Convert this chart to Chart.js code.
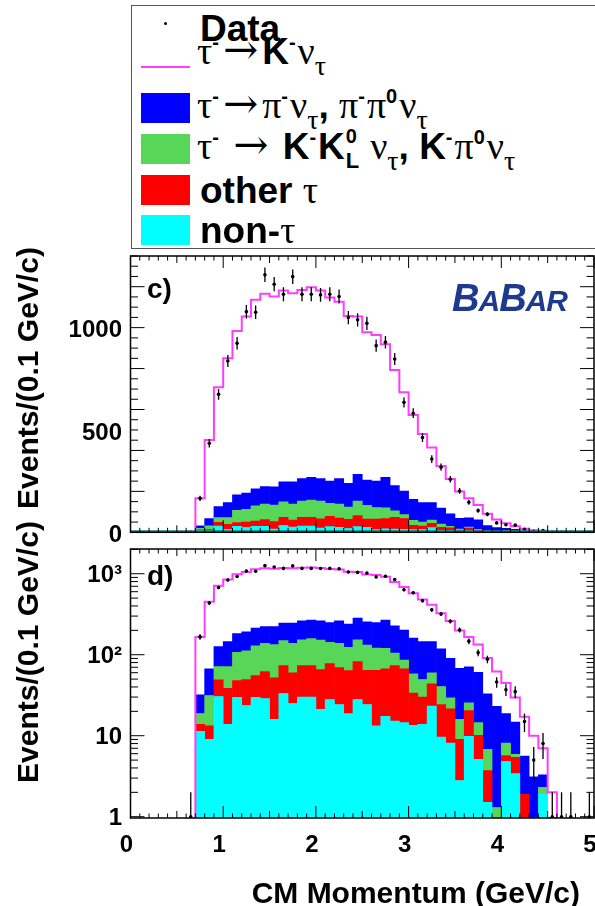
<!DOCTYPE html>
<html>
<head>
<meta charset="utf-8">
<title>CM momentum</title>
<script src="https://cdn.jsdelivr.net/npm/chart.js@4.4.1/dist/chart.umd.min.js"></script>
<style>
  html, body { margin: 0; padding: 0; background: #fff; overflow: hidden; }
  #page { position: relative; width: 595px; height: 906px; overflow: hidden;
          font-family: "Liberation Sans", Arial, sans-serif; font-weight: bold; color: #000; }
  #page canvas { position: absolute; left: 0; }
  .txt { position: absolute; line-height: 0; white-space: nowrap; }
  .gr { font-family: "Liberation Serif", "Times New Roman", serif; font-weight: normal; font-size: 38px; }
  .sp { font-size: 20px; position: relative; top: -15px; margin-right: 2px; }
  .sb { font-size: 28px; position: relative; top: 11px; }
  .arr { font-family: "DejaVu Serif", serif; font-weight: normal; font-size: 42px; margin: 0 4px 0 2px; }
  .row { font-size: 37px; left: 197px; }
  #legend { position: absolute; left: 131px; top: 5px; width: 520px; height: 244px;
            border: 1.5px solid #555; box-sizing: border-box; background: #fff; }
  .swatch { position: absolute; left: 141px; width: 49px; height: 30px; }
  .ytitle { position: absolute; font-size: 30px; line-height: 30px; white-space: nowrap;
            transform: translate(-50%, -50%) rotate(-90deg); }
</style>
</head>
<body>
<div id="page">
  <canvas id="panelC" width="598" height="295" style="top:250px"></canvas>
  <canvas id="panelD" width="598" height="361" style="top:545px"></canvas>

  <div id="legend"></div>
  <div style="position:absolute;left:163.5px;top:21.5px;width:3px;height:3px;border-radius:50%;background:#000"></div>
  <div style="position:absolute;left:141px;top:66px;width:49px;height:2px;background:#ff3cff"></div>
  <div class="swatch" style="top:93px;background:#0000ff"></div>
  <div class="swatch" style="top:134px;background:#57d657"></div>
  <div class="swatch" style="top:175px;background:#ff0000"></div>
  <div class="swatch" style="top:215px;background:#00ffff"></div>

  <div class="txt row" style="top:29.2px;left:200px">Data</div>
  <div class="txt row" style="top:50.2px"><span class="gr">τ</span><span class="sp">-</span><span class="arr">→</span>K<span class="sp">-</span><span class="gr">ν</span><span class="sb gr">τ</span></div>
  <div class="txt row" style="top:104.2px"><span class="gr">τ</span><span class="sp">-</span><span class="arr">→</span><span class="gr">π</span><span class="sp">-</span><span class="gr">ν</span><span class="sb gr">τ</span>, <span class="gr">π</span><span class="sp">-</span><span class="gr">π</span><span class="sp">0</span><span class="gr">ν</span><span class="sb gr">τ</span></div>
  <div class="txt row" style="top:145.2px"><span class="gr">τ</span><span class="sp">-</span> <span class="arr">→</span> K<span class="sp">-</span>K<span style="display:inline-block;position:relative;width:15px;height:0"><span style="position:absolute;left:1px;top:-23px;font-size:20px">0</span><span style="position:absolute;left:1px;top:2px;font-size:22px">L</span></span> <span class="gr">ν</span><span class="sb gr">τ</span>, K<span class="sp">-</span><span class="gr">π</span><span class="sp">0</span><span class="gr">ν</span><span class="sb gr">τ</span></div>
  <div class="txt row" style="top:190.2px;left:200px">other <span class="gr">τ</span></div>
  <div class="txt row" style="top:230.2px;left:200px">non-<span class="gr">τ</span></div>

  <div class="txt" style="left:452px;top:298px;font-size:38px;font-style:italic;color:#1e3a8e;letter-spacing:-1px">B<span style="font-size:30px">A</span>B<span style="font-size:30px">A</span><span style="font-size:30px">R</span></div>
  <div class="txt" style="left:147px;top:289px;font-size:28px">c)</div>
  <div class="txt" style="left:147px;top:576px;font-size:28px">d)</div>

  <div class="ytitle" style="left:28px;top:378px">Events/(0.1 GeV/c)</div>
  <div class="ytitle" style="left:28px;top:652px">Events/(0.1 GeV/c)</div>
  <div class="txt" style="right:15px;top:893px;font-size:30px">CM Momentum (GeV/c)</div>
</div>

<script>
Chart.defaults.font.family = "'Liberation Sans', Arial, sans-serif";
Chart.defaults.font.weight = 'bold';
Chart.defaults.font.size = 24;
Chart.defaults.color = '#000';

// lower edge of each 0.1 GeV/c bin
const binLow = [0.7, 0.8, 0.9, 1.0, 1.1, 1.2, 1.3, 1.4, 1.5, 1.6,
                1.7, 1.8, 1.9, 2.0, 2.1, 2.2, 2.3, 2.4, 2.5, 2.6,
                2.7, 2.8, 2.9, 3.0, 3.1, 3.2, 3.3, 3.4, 3.5, 3.6,
                3.7, 3.8, 3.9, 4.0, 4.1, 4.2, 4.3, 4.4, 4.5];

// stacked MC components, events per bin (bottom to top)
const nonTau = [11.3, 9.0, 30.5, 13.8, 29.7, 23.6, 29.7, 28.8, 15.9, 33.2,
                25.0, 29.9, 29.9, 21.1, 28.0, 24.3, 18.7, 28.0, 24.3, 13.2,
                17.3, 15.2, 14.5, 13.4, 13.8, 23.2, 9.6, 8.1, 2.8, 9.8,
                5.1, 1.5, 0, 4.8, 3.4, 0, 0, 1.9, 0];
const otherTau = [2.5, 4.2, 18.5, 24.8, 18.3, 25.8, 25.6, 33.2, 35.9, 40.3,
                  34.7, 43.6, 43.6, 44.5, 49.8, 45.1, 45.0, 54.2, 40.0, 51.1,
                  49.5, 58.3, 52.3, 20.1, 16.1, 20.5, 14.7, 13.4, 6.2, 10.7,
                  5.0, 2.2, 0, 0.9, 2.0, 1.9, 0, 0, 0];
const kKpi0 = [5.0, 18.2, 22.4, 32.8, 59.0, 62.6, 73.7, 76.0, 81.2, 75.5,
               78.3, 79.5, 84.5, 86.4, 64.2, 68.6, 59.3, 70.8, 67.7, 56.7,
               53.2, 31.5, 19.2, 24.5, 19.5, 16.0, 16.2, 7.9, 6.9, 5.0,
               4.4, 3.1, 1.3, 2.4, 0.5, 0, 0, 0.4, 0];
const piPi0 = [13.2, 35.5, 54.6, 73.6, 76, 80, 84, 85, 89, 97,
               108, 110, 110, 111, 108, 125, 116, 130, 123, 129,
               148, 123, 116, 103, 95.6, 85.3, 77.5, 60.6, 52.1, 45.5,
               46.3, 26.2, 21.7, 10.7, 8.8, 3.7, 3.1, 1.0, 0];
// tau -> K nu signal, drawn as an outline on top of the stack
const kNu = [134, 384, 583, 705, 801, 862, 923, 942, 930, 935,
             922, 921, 929, 918, 897, 864, 818, 771, 723, 714,
             651, 565, 482, 412, 335, 269, 206, 171, 131, 95,
             73, 58, 39, 26, 15, 11.5, 6.9, 3.7, 2];

// data: bin centres and event counts
const dataX = [0.65, 0.75, 0.85, 0.95, 1.05, 1.15, 1.25, 1.35, 1.45, 1.55, 1.65,
               1.75, 1.85, 1.95, 2.05, 2.15, 2.25, 2.35, 2.45, 2.55, 2.65,
               2.75, 2.85, 2.95, 3.05, 3.15, 3.25, 3.35, 3.45, 3.55, 3.65,
               3.75, 3.85, 3.95, 4.05, 4.15, 4.25, 4.35, 4.45, 4.55,
               4.65, 4.75, 4.95];
const dataN = [1, 166, 435, 674, 837, 924, 1078, 1075, 1258, 1212, 1163,
               1249, 1163, 1163, 1160, 1163, 1152, 1049, 1038, 1021, 912,
               929, 847, 635, 582, 463, 358, 318, 259, 202, 147,
               106, 88, 46, 37, 35, 15, 5, 8, 1,
               1, 1, 1];

// labelled ticks
const xLabels = [0, 1, 2, 3, 4, 5];
const yLabelsLin = [0, 500, 1000];
const yLabelsLog = [1, 10, 100, 1000];
const logText = { 1: '1', 10: '10', 100: '10²', 1000: '10³' };

const layers = [
  { label: 'non-τ', values: nonTau, color: '#00ffff' },
  { label: 'other τ', values: otherTau, color: '#ff0000' },
  { label: 'K⁻K⁰L ν, K⁻π⁰ν', values: kKpi0, color: '#57d657' },
  { label: 'π⁻ν, π⁻π⁰ν', values: piPi0, color: '#0000ff' }
];

// outline of the full stack (background + signal), one point per bin edge
function stepPoints(floor) {
  const pts = [{ x: binLow[0], y: floor }];
  binLow.forEach((lo, i) => {
    const sum = nonTau[i] + otherTau[i] + kKpi0[i] + piPi0[i] + kNu[i];
    pts.push({ x: +(lo + 0.1).toFixed(2), y: sum });
  });
  pts.push({ x: pts[pts.length - 1].x, y: floor });
  return pts;
}

// sqrt(N) error bars on the data points
const errorBars = {
  id: 'errorBars',
  afterDatasetsDraw(chart) {
    const { ctx, chartArea: a, scales: { x, y } } = chart;
    ctx.save();
    ctx.beginPath();
    ctx.rect(a.left, a.top, a.width, a.height);
    ctx.clip();
    ctx.strokeStyle = '#000';
    ctx.lineWidth = 1.3;
    dataX.forEach((cx, i) => {
      const n = dataN[i], e = Math.sqrt(n);
      const px = x.getPixelForValue(cx);
      const lo = n - e > 0 ? y.getPixelForValue(n - e) : a.bottom;
      ctx.beginPath();
      ctx.moveTo(px, lo);
      ctx.lineTo(px, y.getPixelForValue(n + e));
      ctx.stroke();
    });
    ctx.restore();
  }
};

// frame with inward tick marks on all four sides
const frame = {
  id: 'frame',
  afterDatasetsDraw(chart, args, opts) {
    const { ctx, chartArea: a, scales: { x, y } } = chart;
    ctx.save();
    if (opts.zeroLine) {
      ctx.strokeStyle = '#1b7f7f';
      ctx.lineWidth = 2;
      ctx.beginPath();
      ctx.moveTo(a.left, a.bottom - 1);
      ctx.lineTo(a.right, a.bottom - 1);
      ctx.stroke();
    }
    ctx.strokeStyle = '#000';
    ctx.lineWidth = 1;
    ctx.beginPath();
    for (let i = 0; i <= 50; i++) {
      const px = x.getPixelForValue(i / 10);
      const len = i % 10 === 0 ? 12 : (i % 5 === 0 ? 7 : 4.5);
      ctx.moveTo(px, a.bottom); ctx.lineTo(px, a.bottom - len);
      ctx.moveTo(px, a.top); ctx.lineTo(px, a.top + len);
    }
    opts.yTicks.forEach(([v, major]) => {
      const py = y.getPixelForValue(v);
      const len = major ? 14 : 7.5;
      ctx.moveTo(a.left, py); ctx.lineTo(a.left + len, py);
      ctx.moveTo(a.right, py); ctx.lineTo(a.right - len, py);
    });
    ctx.stroke();
    ctx.lineWidth = 1.5;
    ctx.strokeRect(a.left, a.top, a.width, a.height);
    ctx.restore();
  }
};

function linearTicks(max) {
  const t = [];
  for (let v = 0; v <= max; v += 50) t.push([v, v % 200 === 0]);
  return t;
}
function logTicks(min, max) {
  const t = [];
  for (let e = -1; e <= 4; e++) {
    for (let m = 1; m <= 9; m++) {
      const v = m * Math.pow(10, e);
      if (v >= min && v <= max) t.push([v, m === 1]);
    }
  }
  return t;
}

function makePanel(id, logScale) {
  const yMin = logScale ? 0.964 : 0;
  const yMax = logScale ? 2020 : 1350;
  const datasets = [
    {
      type: 'line', label: 'Data', stack: 'data', order: 0,
      data: dataX.map((x, i) => ({ x: x, y: dataN[i] })),
      showLine: false, pointRadius: 1.8, pointBackgroundColor: '#000', pointBorderWidth: 0
    },
    {
      type: 'line', label: 'τ⁻→K⁻ν', stack: 'total', order: 1,
      data: stepPoints(logScale ? 0.5 : 0),
      stepped: 'after', borderColor: '#ff3cff', borderWidth: 2, pointRadius: 0, fill: false
    }
  ];
  layers.forEach(l => datasets.push({
    type: 'bar', label: l.label, stack: 'bg', order: 2,
    data: binLow.map((lo, i) => ({ x: +(lo + 0.05).toFixed(2), y: l.values[i] })),
    backgroundColor: l.color, borderWidth: 0, barPercentage: 1, categoryPercentage: 1
  }));

  return new Chart(document.getElementById(id), {
    type: 'bar',
    data: { datasets: datasets },
    options: {
      responsive: false, animation: false, devicePixelRatio: 1, events: [],
      layout: { padding: logScale ? { top: 3, right: 1, bottom: 0, left: 0 }
                                  : { top: 6, right: 1, bottom: 12.7, left: 0 } },
      plugins: {
        legend: { display: false }, tooltip: { enabled: false },
        frame: { yTicks: logScale ? logTicks(yMin, yMax) : linearTicks(yMax), zeroLine: !logScale }
      },
      scales: {
        x: {
          type: 'linear', min: 0, max: 5, offset: false, display: logScale,
          grid: { display: false, drawTicks: false }, border: { display: false },
          ticks: { padding: 12.6, labelOffset: -4, maxRotation: 0, autoSkip: false },
          afterBuildTicks(s) { s.ticks = xLabels.map(v => ({ value: v })); },
          afterFit(s) {
            if (logScale) s.height = 88;
            s.paddingLeft = 0; s.paddingRight = 0;
          }
        },
        y: {
          type: logScale ? 'logarithmic' : 'linear', min: yMin, max: yMax, stacked: true,
          grid: { display: false, drawTicks: false }, border: { display: false },
          ticks: {
            autoSkip: false, padding: 8.5, labelOffset: logScale ? 2 : 3,
            callback(v) { return logScale ? logText[v] : String(v); }
          },
          afterBuildTicks(s) { s.ticks = (logScale ? yLabelsLog : yLabelsLin).map(v => ({ value: v })); },
          afterFit(s) { s.width = 130.5; s.paddingTop = 0; s.paddingBottom = 0; }
        }
      }
    },
    plugins: [errorBars, frame]
  });
}

makePanel('panelC', false);
makePanel('panelD', true);
</script>
</body>
</html>
